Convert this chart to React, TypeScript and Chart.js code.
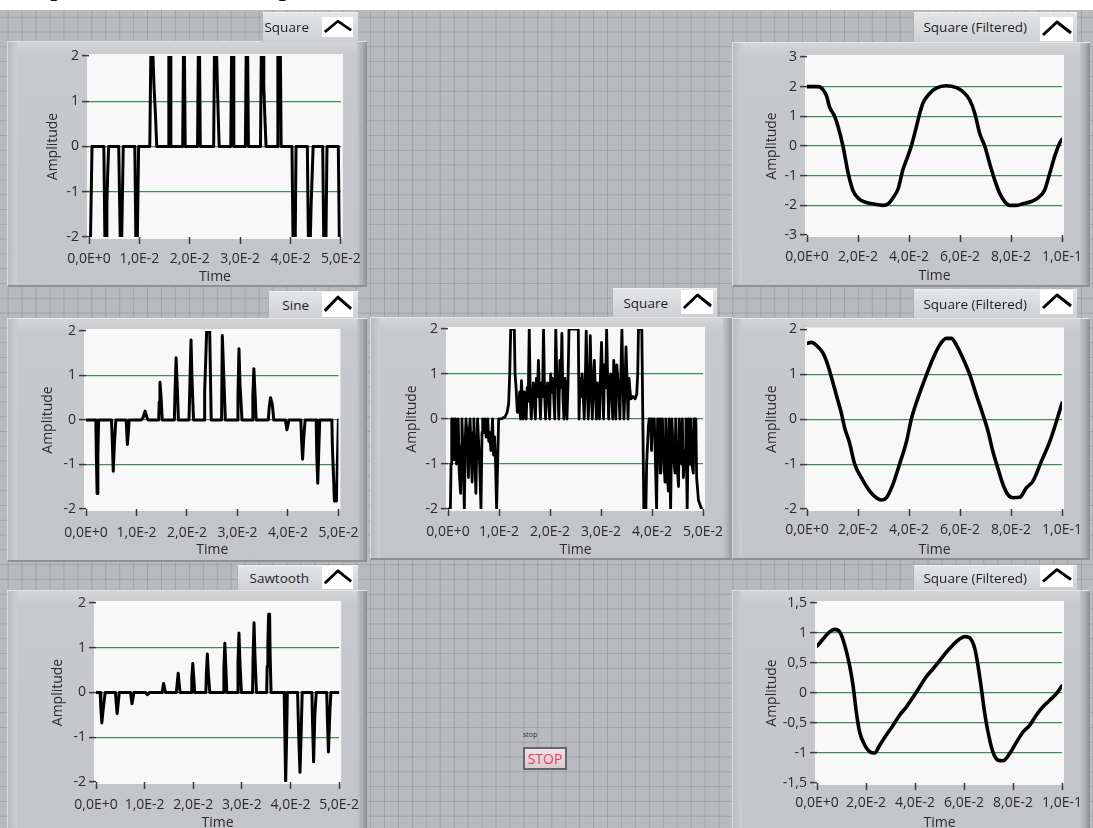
import React, { useEffect, useRef } from "react";
import { Chart, registerables } from "chart.js";

Chart.register(...registerables);

const FONT = "'Open Sans', 'Noto Sans', sans-serif";
const FONT_SIZE = 14;
const LINE_H = FONT_SIZE * 1.2;
const TEXT = "#2b2b2b";
const GREEN = "#3f8a58";
Chart.defaults.font.family = FONT;
Chart.defaults.font.size = FONT_SIZE;
Chart.defaults.color = TEXT;

// ---------- tick values / labels ----------
const timeTicks50 = [0, 0.01, 0.02, 0.03, 0.04, 0.05];
const timeTickLabels50 = ["0,0E+0", "1,0E-2", "2,0E-2", "3,0E-2", "4,0E-2", "5,0E-2"];
const timeTicks100 = [0, 0.02, 0.04, 0.06, 0.08, 0.1];
const timeTickLabels100 = ["0,0E+0", "2,0E-2", "4,0E-2", "6,0E-2", "8,0E-2", "1,0E-1"];
const ampTicks2 = [-2, -1, 0, 1, 2];
const ampTickLabels2 = ["-2", "-1", "0", "1", "2"];
const ampTicks3 = [-3, -2, -1, 0, 1, 2, 3];
const ampTickLabels3 = ["-3", "-2", "-1", "0", "1", "2", "3"];
const ampTicks15 = [-1.5, -1, -0.5, 0, 0.5, 1, 1.5];
const ampTickLabels15 = ["-1,5", "-1", "-0,5", "0", "0,5", "1", "1,5"];

// ---------- series (time in ms, amplitude) ----------
const squareTimeMs = [0, 0.3, 0.6, 2.95, 3.15, 3.4, 3.55, 3.7, 3.9, 5.9, 6.2, 6.5, 6.8, 9.1, 9.3, 9.6, 9.85, 12.07, 12.27, 12.7, 12.9, 13.2, 13.45, 15.7, 15.85, 16.1, 16.25, 18.6, 18.75, 18.95, 19.1, 21.55, 21.7, 21.95, 22.1, 24.75, 24.9, 25.35, 25.5, 25.65, 25.85, 28.15, 28.3, 28.6, 28.75, 31.05, 31.2, 31.5, 31.65, 34.05, 34.2, 34.55, 34.7, 34.9, 35.15, 37.35, 37.5, 38.0, 38.15, 40.3, 40.5, 40.95, 41.1, 43.35, 43.55, 43.95, 44.1, 44.3, 44.5, 46.4, 46.6, 47.05, 47.25, 49.5, 49.7, 50.0];
const squareAmp = [-2, -2, 0, 0, -2, -2, -1.3, -0.65, 0, 0, -2, -2, 0, 0, -2, -2, 0, 0, 2, 2, 1.35, 0.7, 0, 0, 2, 2, 0, 0, 2, 2, 0, 0, 2, 2, 0, 0, 2, 2, 1.3, 0.7, 0, 0, 2, 2, 0, 0, 2, 2, 0, 0, 2, 2, 1.35, 0.7, 0, 0, 2, 2, 0, 0, -2, -2, 0, 0, -2, -2, -1.3, -0.65, 0, 0, -2, -2, 0, 0, -2, -2];

const sineTimeMs = [0, 1.95, 2.05, 2.2, 2.35, 2.5, 5.05, 5.2, 5.4, 5.6, 5.9, 7.95, 8.2, 8.4, 8.55, 10.9, 11.3, 11.7, 12.1, 12.3, 14.4, 14.5, 14.65, 14.9, 15.1, 17.5, 17.65, 17.85, 18.1, 18.3, 20.4, 20.6, 20.8, 21.0, 21.3, 23.4, 23.5, 23.7, 23.9, 24.5, 24.8, 26.85, 27.0, 27.3, 27.6, 29.95, 30.1, 30.3, 30.5, 30.9, 32.9, 33.05, 33.25, 33.5, 33.7, 36.1, 36.3, 36.55, 36.9, 37.2, 39.5, 39.8, 40.2, 42.55, 42.7, 42.9, 43.1, 43.4, 45.6, 45.7, 45.9, 46.1, 46.3, 48.7, 48.8, 49.0, 49.2, 49.6, 49.8, 50];
const sineAmp = [0, 0, -0.8, -1.65, -0.8, 0, 0, -0.45, -1.15, -0.6, 0, 0, -0.55, -0.25, 0, 0, 0.05, 0.2, 0.05, 0, 0, 0.4, 0.85, 0.45, 0, 0, 0.7, 1.4, 0.7, 0, 0, 0.9, 1.8, 0.9, 0, 0, 0.65, 1.3, 2.0, 2.0, 0, 0, 1.9, 0.95, 0, 0, 0.55, 1.6, 0.8, 0, 0, 0.55, 1.15, 0.55, 0, 0, 0.3, 0.5, 0.35, 0, 0, -0.22, 0, 0, -0.45, -0.88, -0.45, 0, 0, -0.75, -1.42, -0.7, 0, 0, -0.6, -1.2, -1.82, -1.82, -0.9, 0];

const sawtoothTimeMs = [0, 0.85, 1.0, 1.2, 1.6, 1.9, 4.0, 4.2, 4.35, 4.6, 4.8, 7.1, 7.4, 7.8, 10.2, 10.6, 11.0, 13.6, 13.9, 14.3, 16.5, 16.7, 16.9, 17.1, 17.3, 19.6, 19.7, 19.9, 20.1, 20.3, 22.6, 22.7, 22.9, 23.1, 23.4, 26.2, 26.3, 26.5, 26.7, 26.9, 29.1, 29.2, 29.4, 29.6, 29.9, 32.2, 32.3, 32.5, 32.7, 33.0, 35.1, 35.2, 35.35, 35.5, 35.7, 35.8, 36.0, 38.7, 38.85, 39.0, 39.2, 39.35, 41.45, 41.6, 41.75, 41.95, 42.2, 42.4, 44.4, 44.55, 44.75, 45.0, 45.3, 47.45, 47.6, 47.8, 48.1, 48.3, 50];
const sawtoothAmp = [0, 0, -0.35, -0.68, -0.25, 0, 0, -0.3, -0.47, -0.2, 0, 0, -0.25, 0, 0, -0.05, 0, 0, 0.2, 0, 0, 0.2, 0.43, 0.2, 0, 0, 0.33, 0.65, 0.33, 0, 0, 0.43, 0.86, 0.43, 0, 0, 0.55, 1.1, 0.55, 0, 0, 0.67, 1.33, 0.67, 0, 0, 0.78, 1.56, 0.78, 0, 0, 0.58, 1.15, 1.75, 1.75, 0.87, 0, 0, -1, -2, -1, 0, 0, -0.6, -1.18, -1.78, -0.88, 0, 0, -0.75, -1.55, -0.5, 0, 0, -0.65, -1.33, -0.42, 0, 0];

const noisySquareTimeMs = [
  0, 0.47, 0.6, 0.73, 0.87, 1.0, 1.2, 1.33, 1.47, 1.67, 1.8, 2.0, 2.2, 2.47, 2.6, 2.73, 3.0, 3.2, 3.4, 3.53, 3.8, 4.0, 4.2, 4.33, 4.53, 4.73, 4.93, 5.07, 5.27, 5.47, 5.67, 5.8, 6.0, 6.2, 6.47, 6.67, 6.8, 7.07, 7.27, 7.47, 7.67, 7.8, 8.0, 8.2, 8.4, 8.6, 8.73, 8.93, 9.13, 9.33, 9.53, 9.73, 9.93,
  10.6, 11.2, 11.6, 11.9, 12.1, 12.3, 13.0, 13.15, 13.35, 13.6, 13.85,
  14.05, 14.2, 14.4, 14.6, 14.73, 14.93, 15.13, 15.33, 15.53, 15.73, 15.93, 16.13, 16.33, 16.53, 16.73, 16.93, 17.13, 17.33, 17.53, 17.73, 17.93, 18.13, 18.33, 18.53, 18.73, 18.93, 19.13, 19.33, 19.53, 19.73, 19.93, 20.13, 20.33, 20.53, 20.73, 20.93, 21.13, 21.33, 21.53, 21.73, 21.93, 22.13, 22.33, 22.53, 22.73, 22.93, 23.13, 23.33, 23.53, 23.73, 25.55, 25.7,
  25.9, 26.1, 26.3, 26.5, 26.7, 26.9, 27.1, 27.3, 27.5, 27.7, 27.9, 28.1, 28.3, 28.5, 28.7, 28.9, 29.1, 29.3, 29.5, 29.7, 29.9, 30.1, 30.3, 30.5, 30.7, 30.9, 31.1, 31.3, 31.5, 31.7, 31.9, 32.1, 32.3, 32.5, 32.7, 32.9, 33.1, 33.3, 33.5, 33.7, 33.9, 34.1, 34.3, 34.5, 34.7, 34.9, 35.1, 35.3, 35.5, 35.7, 35.9, 36.3, 36.7, 37.0, 37.2, 37.35, 38.0, 38.2,
  38.4, 38.8, 38.95, 39.3, 39.45, 39.6, 39.75, 39.9, 40.1, 40.3, 40.45, 40.6, 40.9, 41.1, 41.3, 41.45, 41.6, 41.75, 41.9, 42.05, 42.2, 42.55, 42.7, 42.9, 43.2, 43.35, 43.65, 43.9, 44.2, 44.5, 44.65, 44.8, 45.2, 45.35, 45.5, 45.8, 45.95, 46.15, 46.5, 46.65, 46.9, 47.15, 47.45, 47.6, 47.8, 48.1, 48.25, 48.4, 48.6, 48.75, 49.1, 49.4, 49.7, 50.0,
];
const noisySquareAmp = [
  -2, -2, -1, 0, -0.5, 0, -0.9, -0.4, 0, -1.0, -0.3, 0, -1.2, -1.65, -0.6, 0, -1.0, -2.0, -0.4, 0, -0.5, -1.3, -0.2, 0, -0.7, -1.4, -0.3, 0, -0.9, -1.65, -0.5, 0, -0.5, -1.0, -2.0, -0.3, 0, -0.3, 0, -0.4, -0.2, 0, -0.5, -0.3, -0.7, -0.4, 0, -0.8, -0.4, -1.0, -2.0, -1.0, 0,
  0.01, 0.05, 0.15, 0.35, 1.0, 2.0, 2.0, 1.0, 0.7, 0.15, 0.15,
  0.6, 0, 0.85, 0.4, 0, 0.6, 0.35, 0, 0.7, 0.4, 2.0, 0.5, 0, 0.5, 0.8, 0.4, 0, 0.9, 0.5, 1.3, 0.6, 0, 0.8, 0.5, 2.0, 0.6, 0, 0.6, 0.8, 0.5, 0, 1.0, 0.6, 0.9, 0.5, 0, 2.0, 1.0, 0.8, 0, 1.3, 0.7, 1.9, 0.5, 0, 0.9, 0.6, 0, 0.8, 2.0, 2.0, 0,
  0.9, 0.5, 1.0, 0.6, 0, 0.7, 1.95, 0.8, 0, 0.6, 1.85, 0.7, 0, 0.9, 1.3, 0.6, 0, 0.8, 0.5, 0, 1.0, 1.7, 0.8, 0, 1.2, 0.7, 2.0, 0.9, 0, 0.8, 1.0, 0.6, 0, 1.3, 0.8, 0, 1.2, 0.9, 0.6, 0, 1.0, 2.0, 0.8, 0, 0.7, 1.6, 0.9, 0, 0.9, 0.6, 0.45, 0.5, 0.45, 0.55, 1.0, 2.0, 2.0, 0,
  -2, -2, -1.0, -0.15, 0, -0.2, 0, -0.7, 0, -0.3, 0, -0.6, -2.0, 0, -0.8, 0, -1.2, 0, -0.5, 0, -0.7, -1.4, 0, -0.9, -1.6, 0, -2.0, 0, -0.8, -1.2, 0, -0.8, -1.5, 0, -0.5, -1.0, 0, -1.3, -0.7, 0, -2.0, 0, -1.0, 0, -1.0, -1.2, 0, -0.4, 0, -1.3, -1.8, -1.9, -2.0, -2.0,
];

const filteredATimeMs = [0, 4.3, 7.6, 8.9, 10.85, 12.2, 14.1, 16.1, 18.0, 20.0, 22.0, 25.9, 29.8, 31.8, 33.7, 35.7, 37.6, 39.0, 40.9, 42.9, 44.2, 45.5, 48.1, 50.7, 54.6, 58.6, 61.2, 63.8, 65.8, 67.7, 69.7, 71.6, 73.6, 75.6, 77.5, 79.5, 82.1, 84.7, 88.0, 90.6, 93.2, 95.2, 97.1, 99.1, 100];
const filteredAAmp = [2.0, 2.0, 1.7, 1.3, 1.0, 0.65, 0, -0.9, -1.5, -1.75, -1.87, -1.95, -2.0, -1.95, -1.75, -1.45, -0.8, -0.47, 0, 0.65, 1.1, 1.45, 1.77, 1.95, 2.03, 1.97, 1.83, 1.55, 1.1, 0.43, 0, -0.58, -1.14, -1.6, -1.87, -2.0, -2.0, -1.95, -1.87, -1.75, -1.48, -0.92, -0.36, 0.1, 0.22];

const filteredBTimeMs = [0, 1.7, 4.3, 6.3, 8.2, 9.5, 11.5, 13.5, 14.8, 16.7, 18.7, 21.3, 24.6, 27.2, 29.2, 31.1, 33.7, 36.3, 39.0, 40.9, 43.5, 46.8, 49.4, 52.0, 54.6, 56.6, 58.6, 61.2, 63.8, 66.4, 69.0, 71.0, 72.9, 74.9, 76.9, 78.8, 80.8, 83.4, 86.0, 88.6, 91.9, 95.2, 97.8, 100];
const filteredBAmp = [1.69, 1.71, 1.61, 1.47, 1.2, 0.95, 0.54, 0.13, -0.2, -0.53, -1.0, -1.3, -1.6, -1.75, -1.8, -1.75, -1.45, -1.0, -0.5, 0, 0.47, 0.98, 1.35, 1.65, 1.8, 1.8, 1.65, 1.35, 1.0, 0.54, 0.1, -0.27, -0.72, -1.1, -1.46, -1.68, -1.75, -1.74, -1.53, -1.38, -0.94, -0.5, -0.05, 0.36];

const filteredCTimeMs = [0, 2.45, 5.17, 7.2, 9.25, 11.3, 13.3, 14.7, 16.05, 17.4, 19.5, 21.5, 23.5, 25.6, 28.3, 31.0, 33.7, 36.5, 39.2, 41.9, 44.6, 47.3, 50.1, 52.8, 55.5, 58.2, 60.3, 62.3, 64.4, 65.7, 67.1, 68.4, 69.8, 71.8, 73.9, 75.9, 78.6, 81.4, 84.1, 86.8, 89.5, 92.2, 95.0, 97.7, 100];
const filteredCAmp = [0.78, 0.9, 1.02, 1.06, 1.02, 0.8, 0.46, 0.13, -0.32, -0.65, -0.87, -0.98, -1.0, -0.87, -0.7, -0.54, -0.37, -0.23, -0.07, 0.1, 0.27, 0.4, 0.54, 0.68, 0.8, 0.9, 0.94, 0.92, 0.74, 0.46, 0.07, -0.32, -0.65, -0.98, -1.12, -1.13, -1.01, -0.82, -0.65, -0.54, -0.37, -0.23, -0.12, -0.01, 0.12];

// ---------- layout of the panels ----------
type Rect = { l: number; t: number; r: number; b: number };
type PanelSpec = {
  id: string;
  name: string;
  time: number[];
  amp: number[];
  xTicks: number[];
  xLabels: string[];
  yTicks: number[];
  yLabels: string[];
  smooth: boolean;
  lineWidth: number;
  frame: Rect;
  plot: Rect;
  tab: Rect;
  icon: Rect;
  ampX: number;
  labelGap: number;
  timeY: number;
};

const panels: PanelSpec[] = [
  {
    id: "p1", name: "Square", time: squareTimeMs, amp: squareAmp,
    xTicks: timeTicks50, xLabels: timeTickLabels50, yTicks: ampTicks2, yLabels: ampTickLabels2,
    smooth: false, lineWidth: 3,
    frame: { l: 7, t: 41, r: 367, b: 287 }, plot: { l: 89, t: 56, r: 343, b: 237 },
    tab: { l: 262, t: 12, r: 358, b: 42 }, icon: { l: 322, t: 17, r: 353, b: 37 },
    ampX: 53, labelGap: 21.6, timeY: 277,
  },
  {
    id: "p2", name: "Sine", time: sineTimeMs, amp: sineAmp,
    xTicks: timeTicks50, xLabels: timeTickLabels50, yTicks: ampTicks2, yLabels: ampTickLabels2,
    smooth: false, lineWidth: 3,
    frame: { l: 7, t: 318, r: 367, b: 562 }, plot: { l: 86, t: 331, r: 343, b: 509 },
    tab: { l: 268, t: 291, r: 358, b: 318 }, icon: { l: 322, t: 292, r: 353, b: 317 },
    ampX: 48, labelGap: 24, timeY: 550.5,
  },
  {
    id: "p3", name: "Sawtooth", time: sawtoothTimeMs, amp: sawtoothAmp,
    xTicks: timeTicks50, xLabels: timeTickLabels50, yTicks: ampTicks2, yLabels: ampTickLabels2,
    smooth: false, lineWidth: 3,
    frame: { l: 7, t: 590, r: 367, b: 845 }, plot: { l: 96, t: 603, r: 343, b: 782 },
    tab: { l: 237, t: 565, r: 358, b: 590 }, icon: { l: 322, t: 566, r: 353, b: 589 },
    ampX: 58, labelGap: 23.3, timeY: 823.3,
  },
  {
    id: "p4", name: "Square", time: noisySquareTimeMs, amp: noisySquareAmp,
    xTicks: timeTicks50, xLabels: timeTickLabels50, yTicks: ampTicks2, yLabels: ampTickLabels2,
    smooth: false, lineWidth: 2.8,
    frame: { l: 370, t: 317, r: 733, b: 560 }, plot: { l: 448, t: 329, r: 703, b: 509 },
    tab: { l: 612, t: 288, r: 717, b: 317 }, icon: { l: 681, t: 290, r: 713, b: 314 },
    ampX: 411.7, labelGap: 22.7, timeY: 550.5,
  },
  {
    id: "p5", name: "Square (Filtered)", time: filteredATimeMs, amp: filteredAAmp,
    xTicks: timeTicks100, xLabels: timeTickLabels100, yTicks: ampTicks3, yLabels: ampTickLabels3,
    smooth: true, lineWidth: 3.6,
    frame: { l: 732, t: 42, r: 1090, b: 287 }, plot: { l: 807, t: 57, r: 1062, b: 235 },
    tab: { l: 913, t: 12, r: 1077, b: 42 }, icon: { l: 1040, t: 17, r: 1073, b: 41 },
    ampX: 771.7, labelGap: 21.7, timeY: 276,
  },
  {
    id: "p6", name: "Square (Filtered)", time: filteredBTimeMs, amp: filteredBAmp,
    xTicks: timeTicks100, xLabels: timeTickLabels100, yTicks: ampTicks2, yLabels: ampTickLabels2,
    smooth: true, lineWidth: 3.6,
    frame: { l: 732, t: 318, r: 1090, b: 560 }, plot: { l: 807, t: 329, r: 1062, b: 509 },
    tab: { l: 913, t: 289, r: 1077, b: 318 }, icon: { l: 1040, t: 290, r: 1073, b: 314 },
    ampX: 771.7, labelGap: 21, timeY: 550.5,
  },
  {
    id: "p7", name: "Square (Filtered)", time: filteredCTimeMs, amp: filteredCAmp,
    xTicks: timeTicks100, xLabels: timeTickLabels100, yTicks: ampTicks15, yLabels: ampTickLabels15,
    smooth: true, lineWidth: 3.6,
    frame: { l: 732, t: 590, r: 1090, b: 845 }, plot: { l: 817, t: 603, r: 1062, b: 783 },
    tab: { l: 913, t: 565, r: 1077, b: 590 }, icon: { l: 1040, t: 565, r: 1073, b: 587 },
    ampX: 771.7, labelGap: 20, timeY: 823.3,
  },
];

const plotBackground = {
  id: "plotBackground",
  beforeDraw(chart: any) {
    const { ctx, chartArea } = chart;
    if (!chartArea) return;
    ctx.save();
    ctx.fillStyle = "#f8f8f8";
    ctx.fillRect(chartArea.left - 2, chartArea.top - 2, chartArea.width + 4, chartArea.height + 4);
    ctx.restore();
  },
};

function GraphPanel({ p }: { p: PanelSpec }) {
  const ref = useRef<HTMLCanvasElement | null>(null);
  const W = p.frame.r - p.frame.l;
  const H = p.frame.b - p.frame.t;

  useEffect(() => {
    const canvas = ref.current;
    if (!canvas) return;
    const yT = p.yTicks;
    const tickLen = 7;
    const chart = new Chart(canvas, {
      type: "line",
      data: {
        datasets: [
          {
            label: p.name,
            data: p.time.map((t, i) => ({ x: t / 1000, y: p.amp[i] })),
            borderColor: "#000000",
            borderWidth: p.lineWidth,
            pointRadius: 0,
            pointHoverRadius: 0,
            fill: false,
            tension: 0,
            cubicInterpolationMode: p.smooth ? "monotone" : "default",
            borderJoinStyle: "round",
            borderCapStyle: "round",
          } as any,
        ],
      },
      options: {
        responsive: false,
        animation: false,
        events: [],
        layout: {
          padding: { left: 0, right: p.frame.r - p.plot.r, top: p.plot.t - p.frame.t, bottom: 0 },
        },
        plugins: { legend: { display: false }, tooltip: { enabled: false } },
        scales: {
          x: {
            type: "linear",
            min: p.xTicks[0],
            max: p.xTicks[p.xTicks.length - 1],
            afterBuildTicks: (s: any) => {
              s.ticks = p.xTicks.map((v) => ({ value: v }));
            },
            afterFit: (s: any) => {
              s.height = p.frame.b - p.plot.b;
            },
            ticks: {
              autoSkip: false,
              maxRotation: 0,
              minRotation: 0,
              padding: p.labelGap - LINE_H / 2 - tickLen,
              color: TEXT,
              callback: (_v: any, i: number) => p.xLabels[i],
            },
            grid: {
              drawOnChartArea: false,
              drawTicks: true,
              tickLength: tickLen,
              tickColor: "#3a3a3a",
              tickWidth: 1.5,
            },
            border: { display: false },
            title: {
              display: true,
              text: "Time",
              color: TEXT,
              padding: { top: 0, bottom: p.frame.b - p.timeY - LINE_H / 2 },
            },
          },
          y: {
            type: "linear",
            min: yT[0],
            max: yT[yT.length - 1],
            afterBuildTicks: (s: any) => {
              s.ticks = yT.map((v) => ({ value: v }));
            },
            afterFit: (s: any) => {
              s.width = p.plot.l - p.frame.l;
            },
            ticks: {
              padding: 3,
              color: TEXT,
              callback: (_v: any, i: number) => p.yLabels[i],
            },
            grid: {
              color: (c: any) => (c.index === 0 || c.index === yT.length - 1 ? "rgba(0,0,0,0)" : GREEN),
              lineWidth: 1.2,
              drawTicks: true,
              tickLength: tickLen,
              tickColor: "#3a3a3a",
              tickWidth: 1.5,
            },
            border: { display: false },
            title: {
              display: true,
              text: "Amplitude",
              color: TEXT,
              padding: { top: p.ampX - p.frame.l - LINE_H / 2, bottom: 0 },
            },
          },
        },
      } as any,
      plugins: [plotBackground],
    });
    return () => chart.destroy();
  }, [p]);

  const f = p.frame;
  const tab = p.tab;
  const ic = p.icon;
  return (
    <>
      <div
        style={{
          position: "absolute",
          left: f.l,
          top: f.t,
          width: W,
          height: H,
          boxSizing: "border-box",
          background: "linear-gradient(to bottom, #d4d5d7 0px, #c8c9cc 14px, #c4c5c8 100%)",
          borderTop: "1px solid #e4e5e7",
          borderLeft: "1px solid #dcdde0",
          borderBottom: "2px solid #8e9094",
        }}
      >
        <div
          style={{
            position: "absolute",
            left: 0,
            top: 0,
            bottom: 0,
            width: 9,
            background: "linear-gradient(to right, #babbbf, #cdced1)",
          }}
        />
        <div
          style={{
            position: "absolute",
            right: 0,
            top: 0,
            bottom: 0,
            width: 10,
            background: "linear-gradient(to right, #c4c5c8, #a9abae 60%, #8b8d91)",
          }}
        />
      </div>
      <canvas
        ref={ref}
        width={W}
        height={H}
        style={{ position: "absolute", left: f.l, top: f.t, width: W, height: H, display: "block" }}
      />
      <div
        style={{
          position: "absolute",
          left: tab.l,
          top: tab.t,
          width: tab.r - tab.l,
          height: tab.b - tab.t,
          boxSizing: "border-box",
          background: "linear-gradient(to bottom, #e4e5e7, #cfd0d3)",
          borderLeft: "1px solid #aeb0b4",
          borderTop: "1px solid #eeeff0",
        }}
      />
      <div
        style={{
          position: "absolute",
          left: tab.l,
          top: tab.t,
          width: ic.l - 13 - tab.l,
          height: tab.b - tab.t,
          display: "flex",
          alignItems: "center",
          justifyContent: "flex-end",
          fontFamily: FONT,
          fontSize: 13.5,
          color: "#1f1f1f",
          whiteSpace: "nowrap",
        }}
      >
        {p.name}
      </div>
      <svg
        width={ic.r - ic.l}
        height={ic.b - ic.t}
        viewBox="0 0 33 24"
        preserveAspectRatio="none"
        style={{ position: "absolute", left: ic.l, top: ic.t, background: "#ffffff" }}
      >
        <polyline points="3,18 17,5 31,16" fill="none" stroke="#000" strokeWidth={3} strokeLinejoin="round" />
      </svg>
    </>
  );
}

export default function App() {
  return (
    <div
      style={{
        position: "fixed",
        left: 0,
        top: 0,
        width: 1093,
        height: 828,
        overflow: "hidden",
        background: "#ffffff",
      }}
    >
      <span
        style={{
          position: "absolute",
          left: 50,
          top: -30,
          fontFamily: "'Liberation Serif', serif",
          fontSize: 30,
          lineHeight: "30px",
          color: "#111",
        }}
      >
        p
      </span>
      <span
        style={{
          position: "absolute",
          left: 278.5,
          top: -30,
          fontFamily: "'Liberation Serif', serif",
          fontSize: 30,
          lineHeight: "30px",
          color: "#111",
        }}
      >
        p
      </span>
      <div
        style={{
          position: "absolute",
          left: 0,
          top: 10,
          width: 1093,
          height: 818,
          backgroundColor: "#b8babe",
          backgroundImage:
            "linear-gradient(to right, rgba(80,84,90,0.22) 1px, transparent 1px), linear-gradient(to bottom, rgba(80,84,90,0.22) 1px, transparent 1px)",
          backgroundSize: "13.95px 14.8px",
          backgroundPosition: "7.7px 6.7px",
        }}
      />
      {panels.map((p) => (
        <GraphPanel key={p.id} p={p} />
      ))}
      <div
        style={{
          position: "absolute",
          left: 523,
          top: 730,
          fontFamily: FONT,
          fontSize: 7,
          color: "#333",
        }}
      >
        stop
      </div>
      <div
        style={{
          position: "absolute",
          left: 523,
          top: 747,
          width: 44,
          height: 23,
          boxSizing: "border-box",
          border: "2px solid #636569",
          background: "linear-gradient(to bottom, #efe4e6, #dccbcf)",
          display: "flex",
          alignItems: "center",
          justifyContent: "center",
          fontFamily: FONT,
          fontSize: 14,
          color: "#e5405a",
        }}
      >
        STOP
      </div>
    </div>
  );
}
